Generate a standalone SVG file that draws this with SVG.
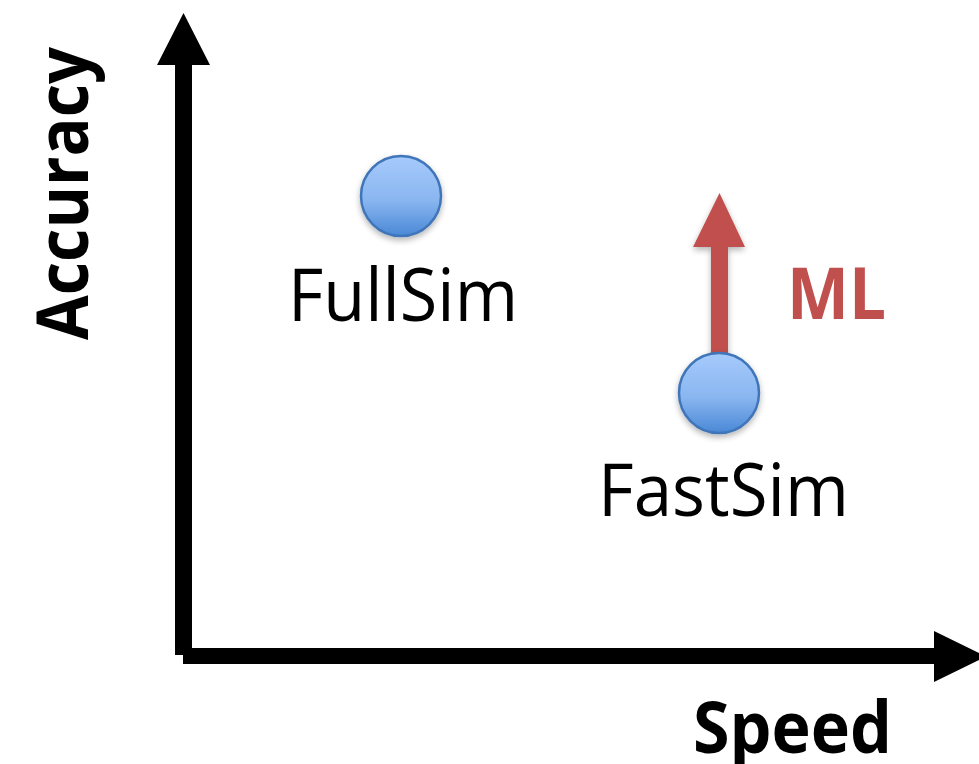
<svg xmlns="http://www.w3.org/2000/svg" width="979" height="764" viewBox="0 0 979 764">
  <style>
    .label { font-family: "Open Sans", "Liberation Sans", sans-serif; font-size: 74px; fill: #000; }
    .bold { font-weight: bold; font-size: 72px; }
    .ml { fill: #c0504d; }
    .axis { fill: #000; }
    .dot { fill: url(#dotFill); stroke: #3f76b9; stroke-width: 2.5; filter: url(#soft); }
  </style>
  <defs>
    <linearGradient id="dotFill" x1="0" y1="0" x2="0" y2="1">
      <stop offset="0" stop-color="#a6cafc"/>
      <stop offset="0.55" stop-color="#8ab6f0"/>
      <stop offset="1" stop-color="#4a88d6"/>
    </linearGradient>
    <filter id="soft" x="-30%" y="-30%" width="160%" height="170%">
      <feGaussianBlur in="SourceAlpha" stdDeviation="3"/>
      <feOffset dy="3" result="b"/>
      <feComponentTransfer><feFuncA type="linear" slope="0.3"/></feComponentTransfer>
      <feMerge><feMergeNode/><feMergeNode in="SourceGraphic"/></feMerge>
    </filter>
  </defs>

  <rect width="979" height="764" fill="#fff"/>

  <!-- axes -->
  <g id="axes">
    <polygon class="axis" points="175,655 175,65 157,65 183.5,13 210,65 192,65 192,655"/>
    <polygon class="axis" points="183,648 934,648 934,631 986,656.5 934,682 934,664 183,664"/>
    <text class="label bold" x="693" y="753" textLength="199" lengthAdjust="spacingAndGlyphs">Speed</text>
    <text class="label bold" transform="translate(88,340) rotate(-90)" x="0" y="0" textLength="293" lengthAdjust="spacingAndGlyphs">Accuracy</text>
  </g>

  <!-- connectors -->
  <g id="connectors">
    <g filter="url(#soft)">
      <polygon fill="#c0504d" points="711,356 711,247 693,247 719.5,193 745,247 728,247 728,356"/>
    </g>
    <text class="label bold ml" x="787" y="319" textLength="99" lengthAdjust="spacingAndGlyphs">ML</text>
  </g>

  <!-- FullSim -->
  <g id="fullsim">
    <circle class="dot" cx="401" cy="196" r="40"/>
    <text class="label" x="288" y="321" textLength="230" lengthAdjust="spacingAndGlyphs">FullSim</text>
  </g>

  <!-- FastSim -->
  <g id="fastsim">
    <circle class="dot" cx="719" cy="393" r="40"/>
    <text class="label" x="598" y="516" textLength="251" lengthAdjust="spacingAndGlyphs">FastSim</text>
  </g>
</svg>
